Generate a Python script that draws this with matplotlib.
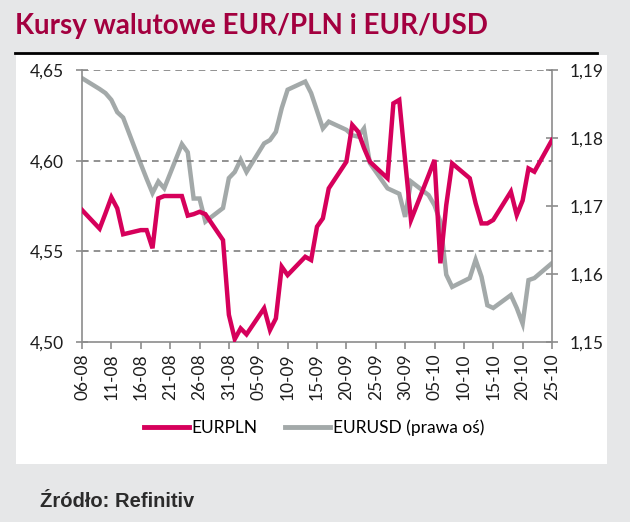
import matplotlib
matplotlib.use("Agg")
import matplotlib.pyplot as plt
import matplotlib.dates as mdates
from matplotlib.lines import Line2D
from matplotlib.patches import Rectangle
import pandas as pd

plt.rcParams["font.family"] = ["Lato", "DejaVu Sans"]
narrow = ["Liberation Sans Narrow", "Lato", "DejaVu Sans"]

# daty notowań (dni robocze)
dates = pd.bdate_range("2021-08-06", "2021-10-25")

eurpln = [4.5728, 4.5625, 4.5710, 4.5798, 4.5737, 4.5594,
          4.5617, 4.5617, 4.5517, 4.5792, 4.5805,
          4.5805, 4.5697, 4.5705, 4.5718, 4.5705,
          4.5562, 4.5150, 4.5016, 4.5075, 4.5042,
          4.5186, 4.5066, 4.5130, 4.5415, 4.5369,
          4.5470, 4.5452, 4.5636, 4.5682, 4.5847,
          4.5994, 4.6197, 4.6160, 4.6070, 4.5994,
          4.5903, 4.6316, 4.6335, 4.6000, 4.5673,
          4.5920, 4.6004, 4.5434, 4.5755, 4.5985,
          4.5903, 4.5765, 4.5654, 4.5654, 4.5673,
          4.5829, 4.5700, 4.5780, 4.5957, 4.5939,
          4.6114]

eurusd = [1.1888, 1.1872, 1.1866, 1.1856, 1.1838, 1.1830,
          1.1762, 1.1740, 1.1719, 1.1736, 1.1726,
          1.1791, 1.1779, 1.1711, 1.1711, 1.1677,
          1.1697, 1.1741, 1.1750, 1.1768, 1.1750,
          1.1792, 1.1797, 1.1809, 1.1844, 1.1871,
          1.1883, 1.1866, 1.1840, 1.1814, 1.1824,
          1.1812, 1.1804, 1.1802, 1.1814, 1.1763,
          1.1726, 1.1722, 1.1718, 1.1684, 1.1736,
          1.1716, 1.1701, 1.1677, 1.1599, 1.1581,
          1.1594, 1.1621, 1.1596, 1.1554, 1.1550,
          1.1569, 1.1550, 1.1527, 1.1591, 1.1594,
          1.1616]

pink = "#d6005b"
grey = "#a3a9a9"
axis_col = "#8c8c8c"
text_col = "#1e1e1e"

fig = plt.figure(figsize=(6.3, 5.22), dpi=100)
fig.patch.set_facecolor("#e6e7e8")

# białe tło wykresu + linia pod tytułem
fig.patches.append(Rectangle((16 / 630, 1 - 464 / 522), 591 / 630, 409 / 522,
                             transform=fig.transFigure, facecolor="white",
                             edgecolor="none", zorder=-5))
fig.lines.append(Line2D([15 / 630, 597 / 630], [1 - 53 / 522, 1 - 53 / 522],
                        transform=fig.transFigure, color="black", lw=2))
fig.text(15 / 630, 1 - 34 / 522, "Kursy walutowe EUR/PLN i EUR/USD",
         color="#a3003f", fontsize=20, fontweight="bold", va="baseline",
         ha="left", family=narrow)
fig.text(40 / 630, 1 - 507 / 522, "Źródło: Refinitiv",
         color="#2b2b2b", fontsize=14.5, fontweight="bold", va="baseline",
         ha="left", family=["Liberation Sans", "DejaVu Sans"])

ax = fig.add_axes([82 / 630, 1 - 342 / 522, 470 / 630, 272 / 522])
ax.set_facecolor("none")
ax2 = ax.twinx()

ax2.plot(dates, eurusd, color=grey, lw=3.2, solid_joinstyle="miter", zorder=2)
ax.plot(dates, eurpln, color=pink, lw=3.2, solid_joinstyle="miter", zorder=3)
ax.set_zorder(ax2.get_zorder() + 1)

ax.set_ylim(4.50, 4.65)
ax.set_yticks([4.50, 4.55, 4.60, 4.65])
ax.set_yticklabels(["4,50", "4,55", "4,60", "4,65"])
ax2.set_ylim(1.15, 1.19)
ax2.set_yticks([1.15, 1.16, 1.17, 1.18, 1.19])
ax2.set_yticklabels(["1,15", "1,16", "1,17", "1,18", "1,19"])

start = pd.Timestamp("2021-08-06")
end = pd.Timestamp("2021-10-25")
ticks = pd.date_range(start, end, freq="5D")
ax.set_xlim(start, end)
ax.set_xticks(ticks)
ax.xaxis.set_major_formatter(mdates.DateFormatter("%d-%m"))
plt.setp(ax.get_xticklabels(), rotation=90)

for v in [4.55, 4.60, 4.65]:
    ax.axhline(v, color="#7f7f7f", lw=1.2, ls=(0, (4, 3)), zorder=1)

for a in (ax, ax2):
    for s in a.spines.values():
        s.set_visible(False)
ax.spines["left"].set_visible(True)
ax.spines["bottom"].set_visible(True)
ax2.spines["right"].set_visible(True)
for s in (ax.spines["left"], ax.spines["bottom"], ax2.spines["right"]):
    s.set_color(axis_col)
    s.set_linewidth(1.2)

ax.tick_params(axis="y", length=8, direction="inout", color=axis_col, width=1.2,
               labelsize=12.5, labelcolor=text_col, pad=9)
ax.tick_params(axis="x", length=5, direction="out", color=axis_col, width=1.2,
               labelsize=12.5, labelcolor=text_col, pad=3)
ax2.tick_params(axis="y", length=8, direction="inout", color=axis_col, width=1.2,
                labelsize=12.5, labelcolor=text_col, pad=9)

handles = [Line2D([], [], color=pink, lw=3.5), Line2D([], [], color=grey, lw=3.5)]
fig.legend(handles, ["EURPLN", "EURUSD (prawa oś)"], loc="center",
           bbox_to_anchor=(314 / 630, 1 - 428 / 522), ncol=2, frameon=False,
           fontsize=12.5, handlelength=2.6, handletextpad=0.15, columnspacing=1.6)

fig.savefig("out.png", dpi=100, facecolor=fig.get_facecolor())
